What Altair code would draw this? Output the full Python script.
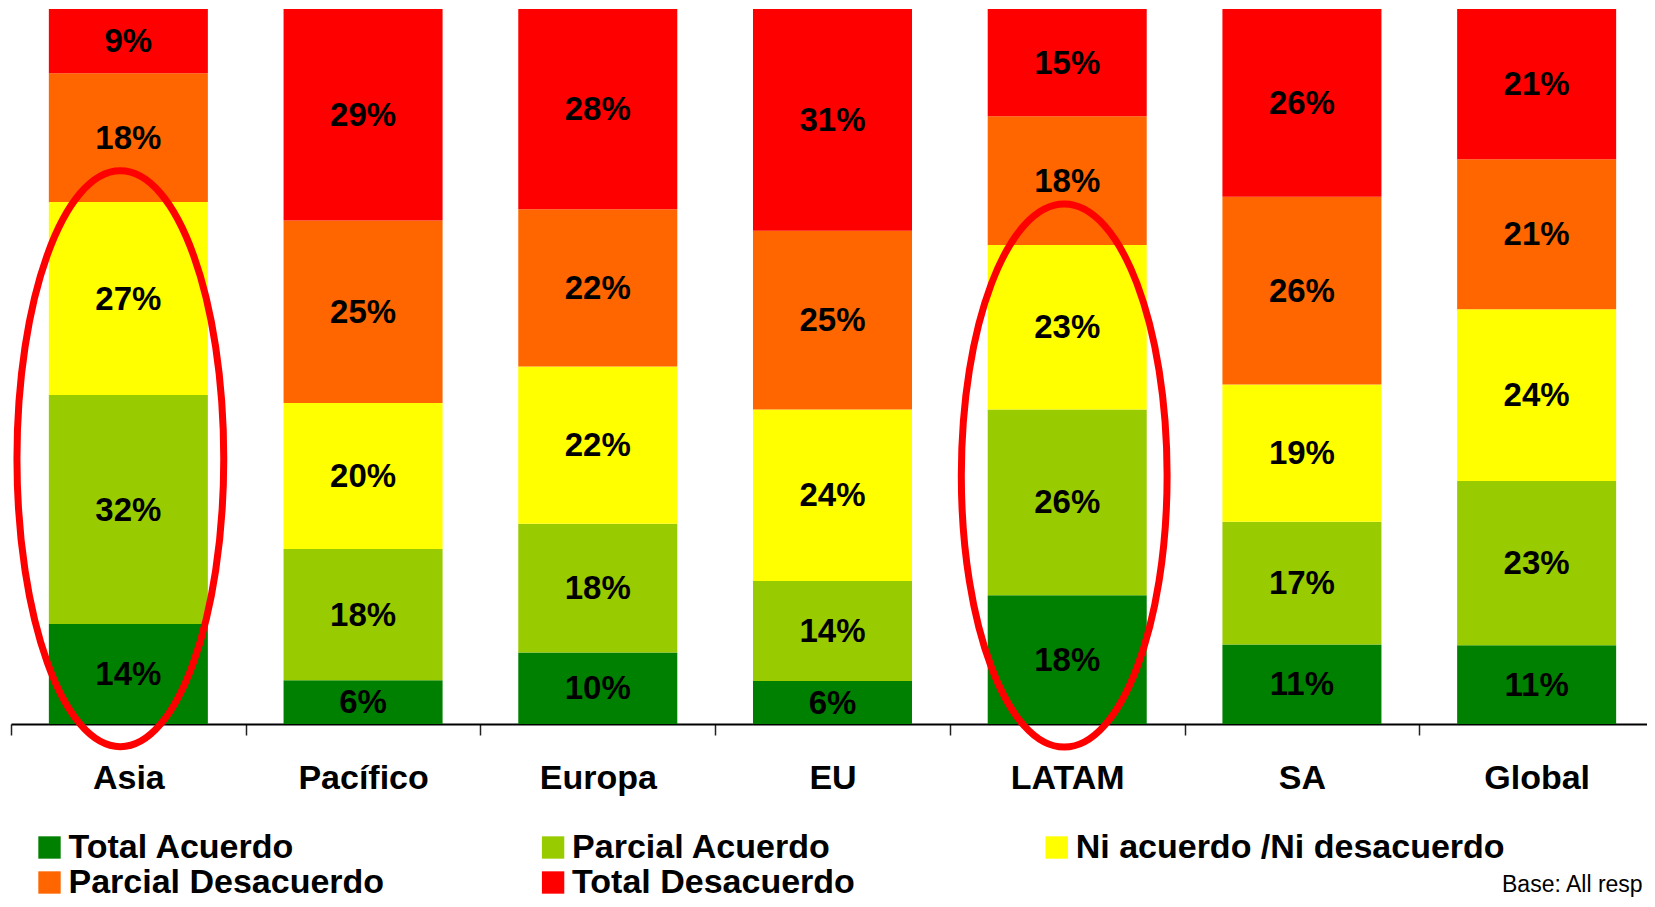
import altair as alt
import pandas as pd

regions = ["Asia", "Pacífico", "Europa", "EU", "LATAM", "SA", "Global"]
levels = ["Total Acuerdo", "Parcial Acuerdo", "Ni acuerdo /Ni desacuerdo",
          "Parcial Desacuerdo", "Total Desacuerdo"]
colors = ["#008000", "#99CC00", "#FFFF00", "#FF6600", "#FF0000"]

total_acuerdo = [14, 6, 10, 6, 18, 11, 11]
parcial_acuerdo = [32, 18, 18, 14, 26, 17, 23]
ni_acuerdo_ni_desacuerdo = [27, 20, 22, 24, 23, 19, 24]
parcial_desacuerdo = [18, 25, 22, 25, 18, 26, 21]
total_desacuerdo = [9, 29, 28, 31, 15, 26, 21]

highlighted = ["Asia", "LATAM"]
note = "Base: All resp"

series = [total_acuerdo, parcial_acuerdo, ni_acuerdo_ni_desacuerdo,
          parcial_desacuerdo, total_desacuerdo]
rows = []
for k, (lvl, vals) in enumerate(zip(levels, series)):
    for reg, v in zip(regions, vals):
        rows.append({"region": reg, "level": lvl, "value": v, "ord": k})
df = pd.DataFrame(rows)

FONT = "Liberation Sans"

x_enc = alt.X(
    "region:N", sort=regions,
    scale=alt.Scale(paddingInner=0, paddingOuter=0, range=[0, 1643]),
    axis=alt.Axis(
        title=None, labelAngle=0, labelFont=FONT, labelFontSize=34,
        labelFontWeight="bold", labelColor="black", labelBaseline="alphabetic",
        labelPadding=53, tickBand="extent", tickSize=11, tickColor="#222222",
        tickWidth=1.5, domainColor="black", domainWidth=2, labelOverlap=False,
        grid=False,
    ),
)
y_scale = alt.Scale(domain=[0, 1], nice=False)

bars = alt.Chart(df).mark_bar(width=alt.RelativeBandSize(0.6775)).encode(
    x=x_enc,
    y=alt.Y("value:Q", stack="normalize", scale=y_scale, axis=None),
    color=alt.Color(
        "level:N",
        scale=alt.Scale(domain=levels, range=colors),
        legend=alt.Legend(
            title=None, orient="none", legendX=21.5, legendY=821.5,
            direction="horizontal", columns=3, gridAlign="all",
            columnPadding=38.6, rowPadding=1, symbolType="square",
            symbolSize=500, symbolStrokeWidth=0, symbolOpacity=1,
            labelFont=FONT, labelFontSize=34, labelFontWeight="bold",
            labelColor="black", labelLimit=1000, labelOffset=2, padding=0,
        ),
    ),
    order=alt.Order("ord:Q", sort="ascending"),
)

labels = alt.Chart(df).transform_joinaggregate(
    total="sum(value)", groupby=["region"]
).transform_window(
    cum="sum(value)", sort=[alt.SortField("ord")], groupby=["region"],
    frame=[None, 0]
).transform_calculate(
    mid="(datum.cum - datum.value / 2) / datum.total",
    label="datum.value + '%'"
).mark_text(
    font=FONT, fontSize=33, fontWeight="bold", color="black",
    baseline="middle", dy=1
).encode(
    x=x_enc,
    y=alt.Y("mid:Q", scale=y_scale, axis=None),
    text="label:N",
)


def ellipse(region, yc, height, rx, xoff):
    path = f"M {-rx} 0 A {rx} 1 0 1 0 {rx} 0 A {rx} 1 0 1 0 {-rx} 0 Z"
    return alt.Chart(pd.DataFrame({"region": [region]})).mark_point(
        shape=path, filled=False, stroke="#FF0000", strokeWidth=7,
        opacity=1, size=height ** 2, xOffset=xoff,
    ).encode(
        x=x_enc,
        y=alt.Y(datum=yc, scale=y_scale, axis=None),
    )


ell1 = ellipse(highlighted[0], 0.371, 576, 0.359, -8)
ell2 = ellipse(highlighted[1], 0.3474, 543, 0.379, -3)

note_text = alt.Chart(pd.DataFrame({"t": [note]})).mark_text(
    font=FONT, fontSize=23, align="left", baseline="alphabetic", color="black"
).encode(x=alt.value(1491), y=alt.value(883), text="t:N")

chart = alt.layer(bars, labels, ell1, ell2, note_text).properties(
    width=1636, height=715,
    autosize=alt.AutoSizeParams(type="none"),
    padding={"left": 3, "top": 1, "right": 0, "bottom": 175},
    background="white",
).configure_view(stroke=None)

chart.save("out.html", embed_options={"renderer": "svg", "actions": False})
